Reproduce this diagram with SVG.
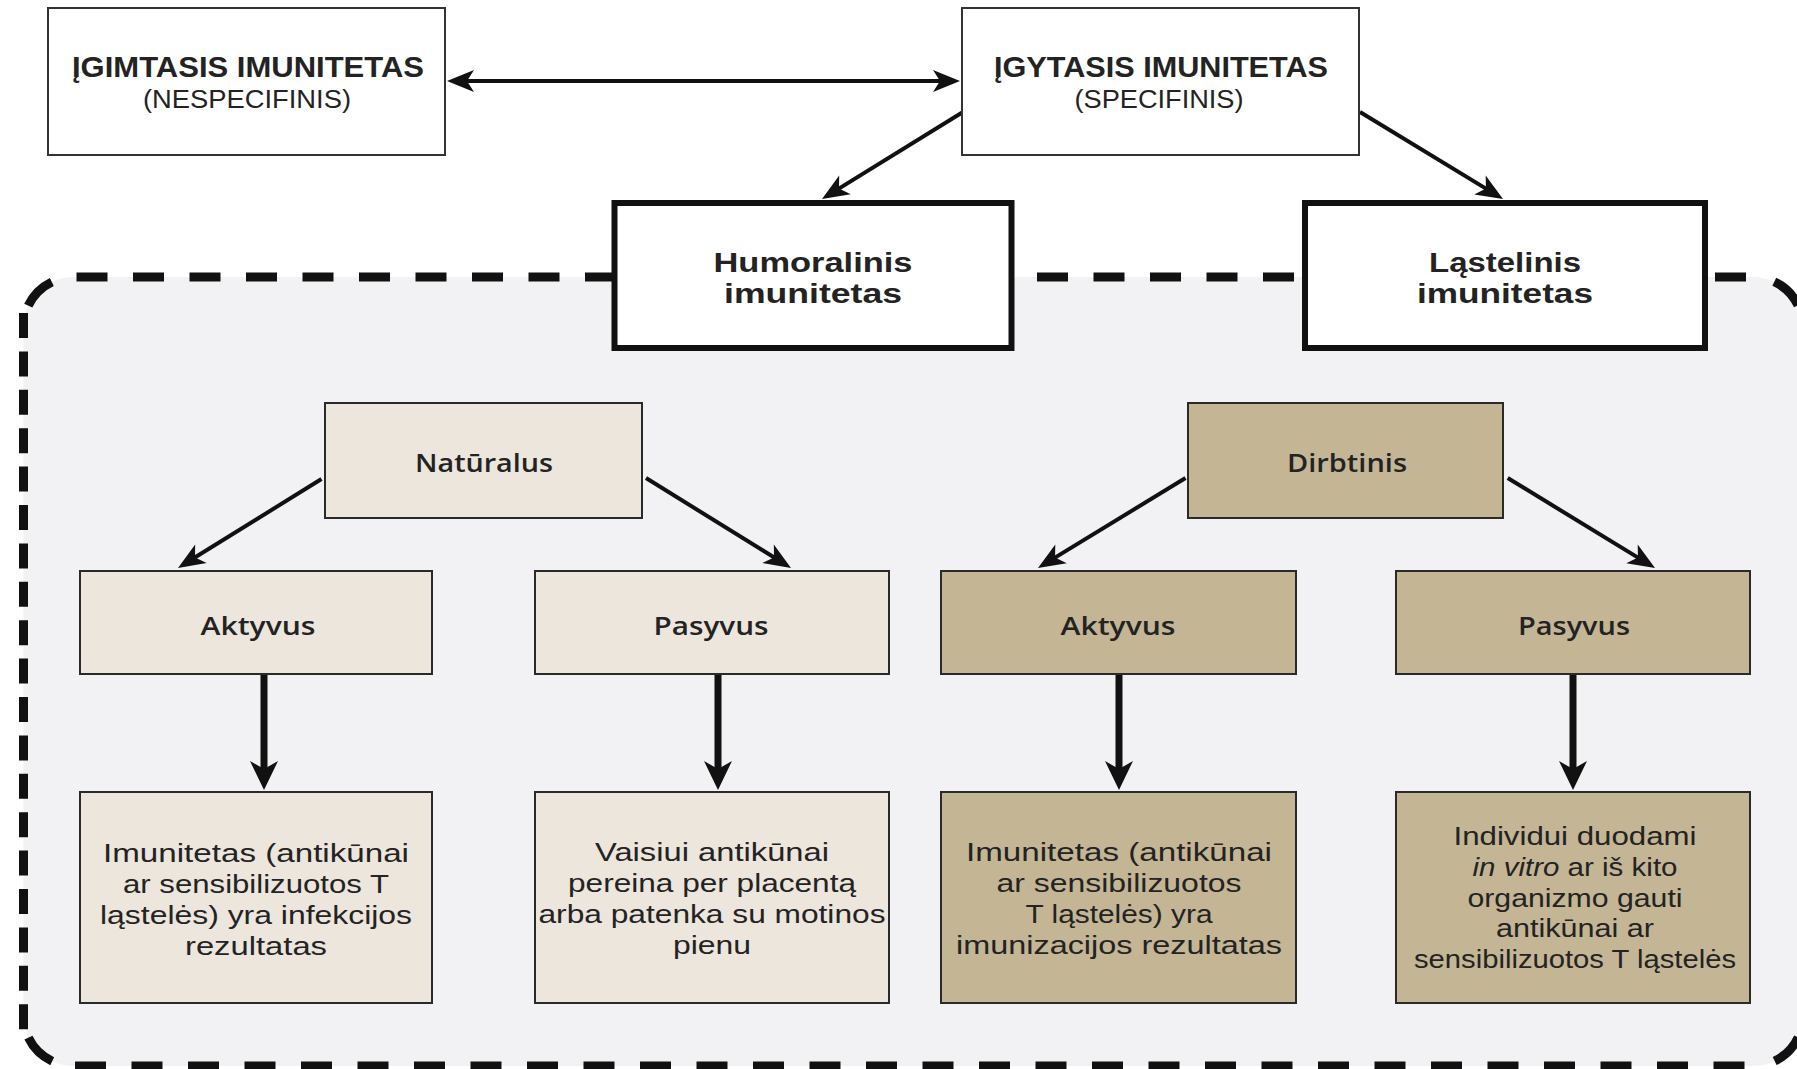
<svg xmlns="http://www.w3.org/2000/svg" width="1797" height="1069" viewBox="0 0 1797 1069">
<defs>
<style>
.bg{fill:#ffffff}
.cont{fill:#f2f2f4;stroke:none}
.dh{fill:none;stroke:#111;stroke-width:9;stroke-dasharray:31 25.5}
.dv{fill:none;stroke:#111;stroke-width:9;stroke-dasharray:25 13.4}
.dc{fill:none;stroke:#111;stroke-width:9;stroke-dasharray:0 22 34 200}
.top{fill:#fff;stroke:#333;stroke-width:2}
.thick{fill:#fff;stroke:#111;stroke-width:6}
.nat{fill:#ece6dd;stroke:#2a2a2a;stroke-width:2}
.art{fill:#c4b595;stroke:#2a2a2a;stroke-width:2}
text{font-family:"Liberation Sans","Open Sans",Arial,sans-serif;fill:#232323;text-anchor:middle}
.t1{font-size:30px;font-weight:bold}
.t2{font-size:26px}
.tb{font-size:28px;font-weight:bold}
.lb{font-family:"Open Sans","Liberation Sans",sans-serif;font-size:26px;font-weight:600}
.bd{font-family:"Liberation Sans","Open Sans",sans-serif;font-size:25px}
.ln{fill:none;stroke:#111;stroke-width:4}
.lnb{fill:none;stroke:#111;stroke-width:7}
</style>
<marker id="ah" viewBox="-28 -12 30 24" refX="-6" refY="0" markerWidth="30" markerHeight="24" markerUnits="userSpaceOnUse" orient="auto-start-reverse">
<path d="M0,0 L-27,-11 L-20,0 L-27,11 Z" fill="#111"/>
</marker>
<marker id="ahb" viewBox="-30 -15 32 30" refX="-8" refY="0" markerWidth="32" markerHeight="30" markerUnits="userSpaceOnUse" orient="auto">
<path d="M0,0 L-29,-14 L-21,0 L-29,14 Z" fill="#111"/>
</marker>
</defs>
<rect class="bg" x="0" y="0" width="1797" height="1069"/>

<g id="container">
<rect class="cont" x="23.5" y="277" width="1779.5" height="789" rx="50"/>
<path class="dh" d="M73.5,277 H1753" stroke-dashoffset="53.5"/>
<path class="dh" d="M73.5,1066 H1753" stroke-dashoffset="55"/>
<path class="dv" d="M23.5,313 V1030"/>
<path class="dv" d="M1803,313 V1030"/>
<path class="dc" d="M23.5,327 A50,50 0 0 1 73.5,277"/>
<path class="dc" d="M73.5,1066 A50,50 0 0 1 23.5,1016"/>
<path class="dc" d="M1753,277 A50,50 0 0 1 1803,327"/>
<path class="dc" d="M1803,1016 A50,50 0 0 1 1753,1066"/>
</g>

<g id="connectors">
<line class="ln" x1="453" y1="81" x2="954" y2="81" marker-start="url(#ah)" marker-end="url(#ah)"/>
<line class="ln" x1="963" y1="112" x2="827.1" y2="195.9" marker-end="url(#ah)"/>
<line class="ln" x1="1360" y1="112" x2="1497.9" y2="195.9" marker-end="url(#ah)"/>
<line class="ln" x1="321.5" y1="479" x2="183.1" y2="564.8" marker-end="url(#ah)"/>
<line class="ln" x1="646" y1="478" x2="785.9" y2="564.8" marker-end="url(#ah)"/>
<line class="ln" x1="1185.5" y1="478" x2="1043.1" y2="564.9" marker-end="url(#ah)"/>
<line class="ln" x1="1507.7" y1="478" x2="1649.9" y2="564.9" marker-end="url(#ah)"/>
<line class="lnb" x1="264" y1="675" x2="264" y2="782" marker-end="url(#ahb)"/>
<line class="lnb" x1="718" y1="675" x2="718" y2="782" marker-end="url(#ahb)"/>
<line class="lnb" x1="1119" y1="675" x2="1119" y2="782" marker-end="url(#ahb)"/>
<line class="lnb" x1="1573" y1="675" x2="1573" y2="782" marker-end="url(#ahb)"/>
</g>

<g id="igimtasis">
<rect class="top" x="48" y="8" width="397" height="147"/>
<text class="t1" x="248" y="77" textLength="352" lengthAdjust="spacingAndGlyphs">ĮGIMTASIS IMUNITETAS</text>
<text class="t2" x="247" y="108" textLength="208" lengthAdjust="spacingAndGlyphs">(NESPECIFINIS)</text>
</g>

<g id="igytasis">
<rect class="top" x="962" y="8" width="397" height="147"/>
<text class="t1" x="1161" y="77" textLength="334" lengthAdjust="spacingAndGlyphs">ĮGYTASIS IMUNITETAS</text>
<text class="t2" x="1159" y="108" textLength="169" lengthAdjust="spacingAndGlyphs">(SPECIFINIS)</text>
</g>

<g id="humoralinis">
<rect class="thick" x="614.5" y="203" width="397" height="145"/>
<text class="tb" x="813" y="272" textLength="199" lengthAdjust="spacingAndGlyphs">Humoralinis</text>
<text class="tb" x="813" y="303" textLength="178" lengthAdjust="spacingAndGlyphs">imunitetas</text>
</g>

<g id="lastelinis">
<rect class="thick" x="1305" y="203" width="400" height="145"/>
<text class="tb" x="1505" y="272" textLength="152" lengthAdjust="spacingAndGlyphs">Ląstelinis</text>
<text class="tb" x="1505" y="303" textLength="176" lengthAdjust="spacingAndGlyphs">imunitetas</text>
</g>

<g id="naturalus">
<rect class="nat" x="325" y="403" width="317" height="115"/>
<text class="lb" x="484" y="472" textLength="138" lengthAdjust="spacingAndGlyphs">Natūralus</text>
</g>

<g id="dirbtinis">
<rect class="art" x="1188" y="403" width="315" height="115"/>
<text class="lb" x="1347" y="472" textLength="120" lengthAdjust="spacingAndGlyphs">Dirbtinis</text>
</g>

<g id="nat-aktyvus">
<rect class="nat" x="80" y="571" width="352" height="103"/>
<text class="lb" x="258" y="635" textLength="115" lengthAdjust="spacingAndGlyphs">Aktyvus</text>
</g>

<g id="nat-pasyvus">
<rect class="nat" x="535" y="571" width="354" height="103"/>
<text class="lb" x="711" y="635" textLength="115" lengthAdjust="spacingAndGlyphs">Pasyvus</text>
</g>

<g id="dirb-aktyvus">
<rect class="art" x="941" y="571" width="355" height="103"/>
<text class="lb" x="1118" y="635" textLength="115" lengthAdjust="spacingAndGlyphs">Aktyvus</text>
</g>

<g id="dirb-pasyvus">
<rect class="art" x="1396" y="571" width="354" height="103"/>
<text class="lb" x="1574" y="635" textLength="112" lengthAdjust="spacingAndGlyphs">Pasyvus</text>
</g>

<g id="nat-aktyvus-result">
<rect class="nat" x="80" y="792" width="352" height="211"/>
<text class="bd" x="256" y="862" textLength="306" lengthAdjust="spacingAndGlyphs">Imunitetas (antikūnai</text>
<text class="bd" x="256" y="893" textLength="266" lengthAdjust="spacingAndGlyphs">ar sensibilizuotos T</text>
<text class="bd" x="256" y="924" textLength="312" lengthAdjust="spacingAndGlyphs">ląstelės) yra infekcijos</text>
<text class="bd" x="256" y="955" textLength="142" lengthAdjust="spacingAndGlyphs">rezultatas</text>
</g>

<g id="nat-pasyvus-result">
<rect class="nat" x="535" y="792" width="354" height="211"/>
<text class="bd" x="712" y="861" textLength="234" lengthAdjust="spacingAndGlyphs">Vaisiui antikūnai</text>
<text class="bd" x="712" y="892" textLength="288" lengthAdjust="spacingAndGlyphs">pereina per placentą</text>
<text class="bd" x="712" y="923" textLength="347" lengthAdjust="spacingAndGlyphs">arba patenka su motinos</text>
<text class="bd" x="712" y="954" textLength="78" lengthAdjust="spacingAndGlyphs">pienu</text>
</g>

<g id="dirb-aktyvus-result">
<rect class="art" x="941" y="792" width="355" height="211"/>
<text class="bd" x="1119" y="861" textLength="306" lengthAdjust="spacingAndGlyphs">Imunitetas (antikūnai</text>
<text class="bd" x="1119" y="892" textLength="245" lengthAdjust="spacingAndGlyphs">ar sensibilizuotos</text>
<text class="bd" x="1119" y="923" textLength="187" lengthAdjust="spacingAndGlyphs">T ląstelės) yra</text>
<text class="bd" x="1119" y="954" textLength="326" lengthAdjust="spacingAndGlyphs">imunizacijos rezultatas</text>
</g>

<g id="dirb-pasyvus-result">
<rect class="art" x="1396" y="792" width="354" height="211"/>
<text class="bd" x="1575" y="845" textLength="243" lengthAdjust="spacingAndGlyphs">Individui duodami</text>
<text class="bd" x="1575" y="876" textLength="205" lengthAdjust="spacingAndGlyphs"><tspan font-style="italic">in vitro</tspan> ar iš kito</text>
<text class="bd" x="1575" y="907" textLength="215" lengthAdjust="spacingAndGlyphs">organizmo gauti</text>
<text class="bd" x="1575" y="937" textLength="158" lengthAdjust="spacingAndGlyphs">antikūnai ar</text>
<text class="bd" x="1575" y="968" textLength="322" lengthAdjust="spacingAndGlyphs">sensibilizuotos T ląstelės</text>
</g>
</svg>
